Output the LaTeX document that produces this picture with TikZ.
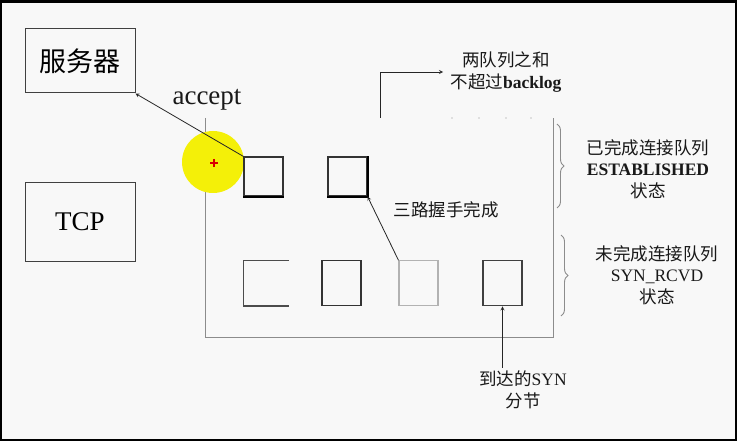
\documentclass[tikz,border=0pt]{standalone}
\usepackage{fontspec}
\setmainfont{Liberation Serif}
\newfontfamily\cjk{Noto Sans CJK SC}
\usetikzlibrary{decorations.pathreplacing}
\definecolor{hilite}{RGB}{244,240,8}
\definecolor{paper}{RGB}{248,248,248}
\newcommand{\bigsz}{\fontsize{27}{30}\selectfont}
\newcommand{\midsz}{\fontsize{17.5}{21.5}\selectfont}

\begin{document}
\begin{tikzpicture}[x=1pt,y=-1pt,
  box/.style={draw=black!80,line width=1.1pt,inner sep=0pt},
  conn/.style={-stealth,line width=0.8pt,black!85},
  brc/.style={decorate,decoration={brace,amplitude=7pt},black!45,line width=0.9pt},
  lbl/.style={align=center,text=black!90,font=\cjk\midsz}]
\fill[black] (0,0) rectangle (737,441);
\fill[paper] (2,3) rectangle (735,439);
\useasboundingbox (0,0) rectangle (737,441);

\node[draw=black!75,line width=1pt,minimum width=110pt,minimum height=64pt] (srv) at (80,61) {\cjk\bigsz 服务器};
\node[draw=black!75,line width=1pt,minimum width=110pt,minimum height=78pt,font=\rmfamily\bigsz] (tcp) at (80,222) {TCP};

\draw[black!45,line width=1pt] (205,118) -- (205,337) -- (553.5,337) -- (553.5,118);
\foreach \x in {452,479,506,531}
  \fill[black!22] (\x,118) circle[radius=0.8pt];

\fill[hilite] (213,162) circle[radius=31pt];
\draw[red!85!black,line width=1.8pt] (210,163) -- (218,163) (214,159) -- (214,167);

\node[box,minimum width=39pt,minimum height=39pt] (est1) at (263.5,176.5) {};
\node[box,minimum width=39pt,minimum height=39pt] (est2) at (347.5,176.5) {};
\draw[line width=2pt] (est1.south west) -- (est1.south east);
\draw[line width=2pt] (est2.south west) -- (est2.south east) -- (est2.north east);

\node[inner sep=0pt,minimum width=45pt,minimum height=45pt] (syn1) at (266.5,283.3) {};
\draw[black!70,line width=1.1pt] (syn1.north east) -- (syn1.north west) -- (syn1.south west) -- (syn1.south east);
\node[box,minimum width=39pt,minimum height=45pt] (syn2) at (341.5,283.3) {};
\node[box,draw=black!30,minimum width=39pt,minimum height=45pt] (syn3) at (418.5,283.3) {};
\node[box,draw=black!75,minimum width=39pt,minimum height=45pt] (syn4) at (502.5,283.3) {};

\node[anchor=base,text=black!90,font=\rmfamily\bigsz] (acc) at (207,105) {accept};
\draw[conn] (est1.north west) -- (srv.south east);

\node[lbl] (hand) at (446,210) {三路握手完成};
\draw[conn] (syn3.north west) -- (est2.south east);

\node[lbl] (bklog) at (506,72) {两队列之和\\不超过{\rmfamily\bfseries backlog}};
\coordinate (bkfoot) at (380,118);
\draw[conn,shorten >=4pt] (bkfoot) |- (bklog.west);

\node[lbl] (synseg) at (523,390) {到达的{\rmfamily SYN}\\分节};
\draw[conn] (syn4.south |- synseg.north) -- (syn4.south);

\draw[brc] (557,124) -- (557,208);
\node[lbl] (estlbl) at (648,169) {已完成连接队列\\{\rmfamily\bfseries ESTABLISHED}\\状态};

\draw[brc] (561,235) -- (561,316);
\node[lbl] (synlbl) at (657,275) {未完成连接队列\\{\rmfamily SYN\_RCVD}\\状态};
\end{tikzpicture}
\end{document}
